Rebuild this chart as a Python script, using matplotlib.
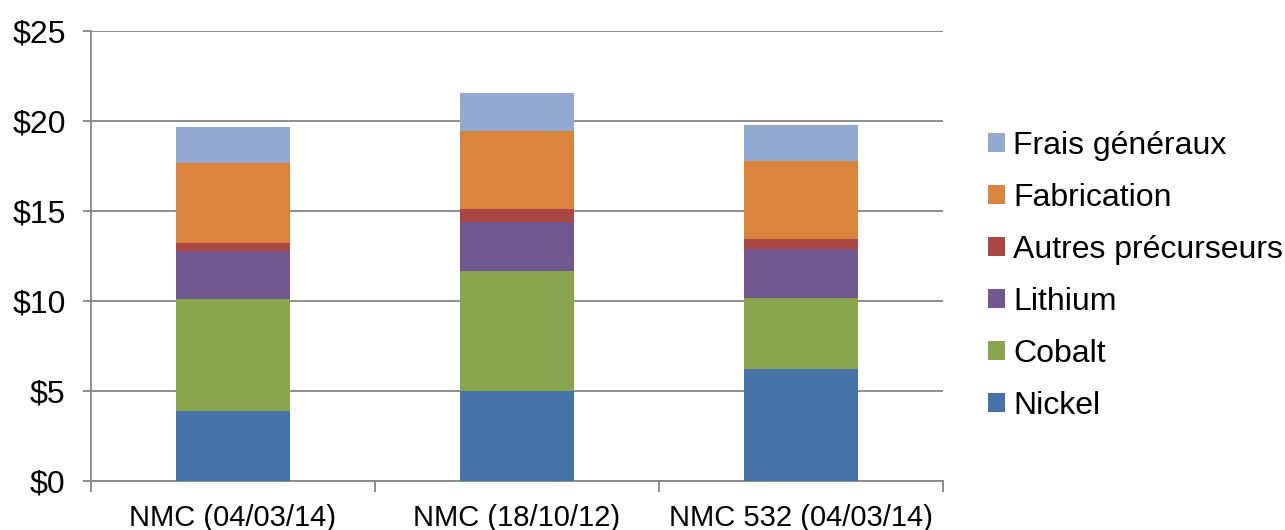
import numpy as np
import matplotlib.pyplot as plt
from matplotlib.patches import Patch
from matplotlib.ticker import FuncFormatter

plt.rcParams['font.family'] = ['Liberation Sans', 'DejaVu Sans']

# cost breakdown per cell chemistry ($ per kg)
categories = ["NMC (04/03/14)", "NMC (18/10/12)", "NMC 532 (04/03/14)"]
nickel = [3.89, 5.00, 6.19]
cobalt = [6.22, 6.63, 3.96]
lithium = [2.63, 2.73, 2.74]
autres = [0.48, 0.72, 0.52]
fabrication = [4.41, 4.36, 4.37]
frais = [2.00, 2.08, 2.00]

series = [
    ("Nickel", nickel, "#4572A7"),
    ("Cobalt", cobalt, "#89A54E"),
    ("Lithium", lithium, "#71588F"),
    ("Autres précurseurs", autres, "#AA4643"),
    ("Fabrication", fabrication, "#DB843D"),
    ("Frais généraux", frais, "#93A9CF"),
]

fig = plt.figure(figsize=(12.85, 5.3), dpi=100)
ax = fig.add_axes([90.7 / 1285, 1 - 480.7 / 530, (943 - 90.7) / 1285, 450 / 530])

x = np.arange(len(categories))
bottom = np.zeros(len(categories))
for name, vals, col in series:
    ax.bar(x, vals, width=0.4, bottom=bottom, color=col, label=name, zorder=3)
    bottom += np.array(vals)

ax.set_xlim(-0.5, 2.5)
ax.set_ylim(0, 25)
ax.set_yticks(np.arange(0, 26, 5))
ax.yaxis.set_major_formatter(FuncFormatter(lambda v, p: f"${v:.0f}"))
ax.grid(axis='y', color='#868686', linewidth=1.3, zorder=0)

for s in ['top', 'right']:
    ax.spines[s].set_visible(False)
for s in ['left', 'bottom']:
    ax.spines[s].set_color('#868686')
    ax.spines[s].set_linewidth(1.3)

ax.set_xticks(x)
ax.set_xticklabels(categories)
ax.set_xticks([-0.5, 0.5, 1.5, 2.5], minor=True)
ax.tick_params(axis='x', which='major', length=0, pad=17, labelsize=21)
ax.tick_params(axis='x', which='minor', length=8, color='#868686', width=1.3)
ax.tick_params(axis='y', length=6, color='#868686', width=1.3, labelsize=23, pad=12)

handles = [Patch(facecolor=col, label=name) for name, vals, col in series][::-1]
fig.legend(handles=handles, loc='center left', bbox_to_anchor=(988 / 1285, 1 - 276 / 530),
           frameon=False, fontsize=23, handlelength=0.53, handleheight=0.53,
           handletextpad=0.25, labelspacing=0.69, borderaxespad=0, borderpad=0)

fig.savefig("out.png", dpi=100)
